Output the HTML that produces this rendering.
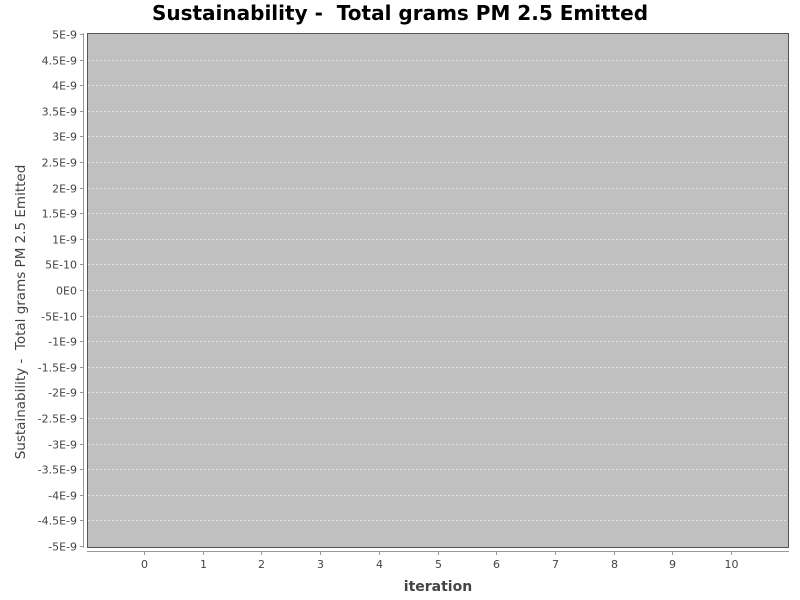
<!DOCTYPE html>
<html><head><meta charset="utf-8"><style>
html,body{margin:0;padding:0;background:#fff;}
svg{display:block;font-family:"DejaVu Sans","Liberation Sans",sans-serif;}
text{white-space:pre;}
</style></head><body>
<svg id="chart" width="800" height="600">
<rect width="800" height="600" fill="#fff"/>
<text x="400" y="20" text-anchor="middle" font-size="20" font-weight="bold" fill="#000">Sustainability -  Total grams PM 2.5 Emitted</text>
<rect x="87.5" y="33.5" width="701" height="514" fill="#c0c0c0" stroke="#555" stroke-width="1"/>
<g id="grid"></g>
<line x1="83.5" y1="33" x2="83.5" y2="548" stroke="#999"/>
<line x1="87" y1="551.5" x2="789" y2="551.5" stroke="#999"/>
<g id="yticks"></g>
<g id="xticks"></g>
<text x="438" y="591" text-anchor="middle" font-size="14" font-weight="bold" fill="#444">iteration</text>
<text transform="translate(25,312) rotate(-90)" text-anchor="middle" font-size="13.5" fill="#444">Sustainability -  Total grams PM 2.5 Emitted</text>
</svg>
<script>
const yTickValues=[5,4.5,4,3.5,3,2.5,2,1.5,1,0.5,0,-0.5,-1,-1.5,-2,-2.5,-3,-3.5,-4,-4.5,-5];
const yTickLabels=["5E-9","4.5E-9","4E-9","3.5E-9","3E-9","2.5E-9","2E-9","1.5E-9","1E-9","5E-10","0E0","-5E-10","-1E-9","-1.5E-9","-2E-9","-2.5E-9","-3E-9","-3.5E-9","-4E-9","-4.5E-9","-5E-9"];
const xCategories=[0,1,2,3,4,5,6,7,8,9,10];
const NS="http://www.w3.org/2000/svg";
function yScale(v){return 290+(0-v)*(256/5);}
function xScale(v){return 144+v*58.7;}
const grid=document.getElementById('grid'),yt=document.getElementById('yticks'),xt=document.getElementById('xticks');
yTickValues.forEach((v,i)=>{
  const y=Math.round(yScale(v))+0.5;
  if(i>0&&i<yTickValues.length-1){
    const g=document.createElementNS(NS,'line');
    
    
    g.setAttribute('x1',88);g.setAttribute('x2',788);g.setAttribute('y1',y);g.setAttribute('y2',y);
    g.setAttribute('stroke','#eee');g.setAttribute('stroke-dasharray','2,2');g.setAttribute('stroke-width','0.8');
    grid.appendChild(g);
  }
  const tk=document.createElementNS(NS,'line');
  
  
  tk.setAttribute('x1',80);tk.setAttribute('x2',83);tk.setAttribute('y1',y);tk.setAttribute('y2',y);tk.setAttribute('stroke','#999');
  yt.appendChild(tk);
  const t=document.createElementNS(NS,'text');
  
  
  t.setAttribute('x',77);t.setAttribute('y',y+4);t.setAttribute('text-anchor','end');t.setAttribute('font-size','11');t.setAttribute('fill','#444');
  t.textContent=yTickLabels[i];yt.appendChild(t);
});
xCategories.forEach(c=>{
  const x=Math.round(xScale(c))+0.5;
  const tk=document.createElementNS(NS,'line');
  
  
  tk.setAttribute('x1',x);tk.setAttribute('x2',x);tk.setAttribute('y1',552);tk.setAttribute('y2',555);tk.setAttribute('stroke','#999');
  xt.appendChild(tk);
  const t=document.createElementNS(NS,'text');
  
  
  t.setAttribute('x',x);t.setAttribute('y',568);t.setAttribute('text-anchor','middle');t.setAttribute('font-size','11');t.setAttribute('fill','#444');
  t.textContent=c;xt.appendChild(t);
});
</script>
</body></html>
